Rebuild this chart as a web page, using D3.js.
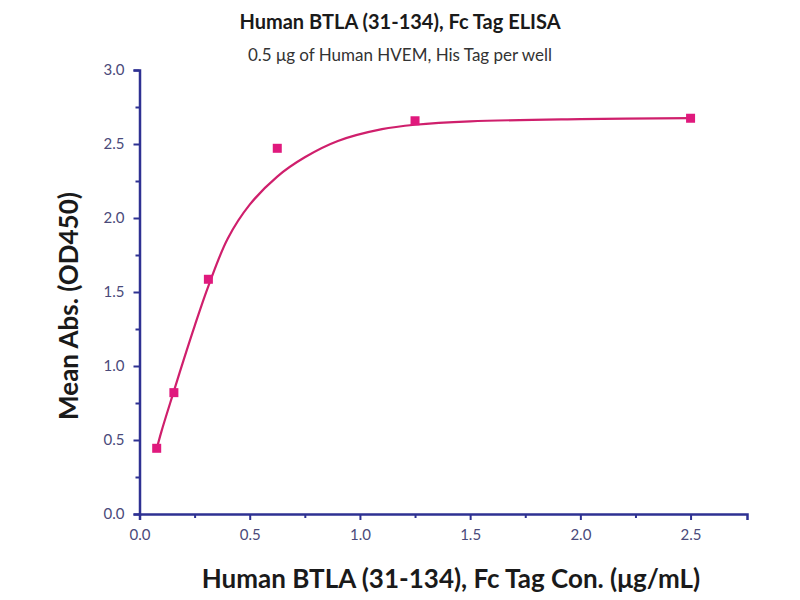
<!DOCTYPE html>
<html><head><meta charset="utf-8">
<script src="https://cdn.jsdelivr.net/npm/d3@7"></script>
<style>body{margin:0;background:#fff}svg{display:block}</style>
</head><body><div id="c"></div>
<script>
const title = "Human BTLA (31-134), Fc Tag ELISA";
const subtitle = "0.5 μg of Human HVEM, His Tag per well";
const xTitle = "Human BTLA (31-134), Fc Tag Con. (μg/mL)";
const yTitle = "Mean Abs. (OD450)";
// measured points
const conc = [0.078, 0.156, 0.3125, 0.625, 1.25, 2.5];
const absorb = [0.444, 0.82, 1.586, 2.471, 2.657, 2.674];
// fitted curve
const curveX = [0.078, 0.1, 0.156, 0.2, 0.25, 0.3125, 0.4, 0.5, 0.625, 0.75, 0.9, 1.1, 1.25, 1.5, 2.0, 2.5];
const curveY = [0.44, 0.56, 0.83, 1.04, 1.27, 1.54, 1.86, 2.09, 2.28, 2.41, 2.52, 2.60, 2.630, 2.653, 2.668, 2.675];
const xTicks = [0, 0.5, 1.0, 1.5, 2.0, 2.5];
const yTicks = [0, 0.5, 1.0, 1.5, 2.0, 2.5, 3.0];

const W = 800, H = 600;
const svg = d3.select("#c").append("svg").attr("width", W).attr("height", H);
const x = d3.scaleLinear().domain([0, 2.756]).range([139.5, 747]);
const y = d3.scaleLinear().domain([0, 3]).range([514, 70]);
const axisColor = "#2e3192";
const font = "Lato, 'Open Sans', sans-serif";

const gx = svg.append("g").attr("transform", `translate(0,${y(0)})`)
  .call(d3.axisBottom(x).tickValues(d3.range(0, 2.51, 0.25)).tickSize(6)
    .tickFormat(d => xTicks.some(t => Math.abs(t - d) < 1e-9) ? d3.format(".1f")(d) : ""));
const gy = svg.append("g").attr("transform", `translate(${x(0)},0)`)
  .call(d3.axisLeft(y).tickValues(d3.range(0, 3.01, 0.25)).tickSize(6)
    .tickFormat(d => yTicks.some(t => Math.abs(t - d) < 1e-9) ? d3.format(".1f")(d) : ""));
[gx, gy].forEach(g => {
  g.select(".domain").attr("stroke", axisColor).attr("stroke-width", 2.5);
  g.selectAll(".tick line").attr("stroke", axisColor).attr("stroke-width", 2);
  g.selectAll(".tick text").attr("fill", "#4a4a7a").style("font-family", font).style("font-size", "15px");
});
gx.selectAll(".tick").filter(d => !xTicks.some(t => Math.abs(t - d) < 1e-9)).select("line").attr("y2", 4);
gy.selectAll(".tick").filter(d => !yTicks.some(t => Math.abs(t - d) < 1e-9)).select("line").attr("x2", -4);
gx.selectAll(".tick text").attr("dy", "1.1em");
gy.selectAll(".tick text").attr("dx", "-0.4em");

const line = d3.line().x((d, i) => x(curveX[i])).y(d => y(d)).curve(d3.curveCatmullRom.alpha(0.5));
svg.append("path").attr("d", line(curveY)).attr("fill", "none")
  .attr("stroke", "#cf1f6c").attr("stroke-width", 2.2);

svg.selectAll("rect.pt").data(conc).enter().append("rect").attr("class", "pt")
  .attr("x", d => x(d) - 4.5).attr("y", (d, i) => y(absorb[i]) - 4.5)
  .attr("width", 9).attr("height", 9).attr("fill", "#e0197d");

svg.append("text").attr("x", 400).attr("y", 29).attr("text-anchor", "middle")
  .style("font-family", font).style("font-weight", "bold").style("font-size", "20px")
  .attr("fill", "#1a1a1a").text(title);
svg.append("text").attr("x", 400).attr("y", 61).attr("text-anchor", "middle")
  .style("font-family", font).style("font-size", "17px").attr("fill", "#333").text(subtitle);
svg.append("text").attr("x", 451).attr("y", 588).attr("text-anchor", "middle")
  .style("font-family", font).style("font-weight", "bold").style("font-size", "26px")
  .attr("fill", "#1a1a1a").text(xTitle);
svg.append("text").attr("transform", "translate(78,306) rotate(-90)").attr("text-anchor", "middle")
  .style("font-family", font).style("font-weight", "bold").style("font-size", "26px")
  .attr("fill", "#1a1a1a").text(yTitle);
</script></body></html>
